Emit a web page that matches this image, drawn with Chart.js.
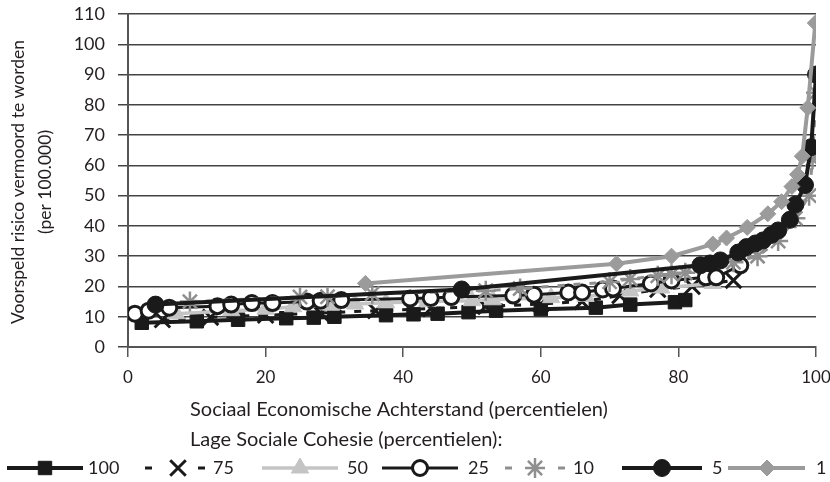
<!DOCTYPE html>
<html>
<head>
<meta charset="utf-8">
<script src="https://cdn.jsdelivr.net/npm/chart.js@4/dist/chart.umd.min.js"></script>
<style>
  body { margin: 0; background: #fff; }
  canvas { display: block; }
</style>
</head>
<body>
<canvas id="chart" width="830" height="482"></canvas>
<script>
// data (x = percentile sociaal economische achterstand, y = risico per 100.000)
const s100X = [2, 10, 16, 23, 27, 30, 37.5, 41.5, 45, 49.5, 53.5, 60, 68, 73, 79.5, 81];
const s100Y = [8, 8.5, 9, 9.5, 9.7, 10, 10.5, 10.8, 11, 11.5, 12, 12.5, 13, 14, 14.8, 15.5];

const s75X = [5, 12, 20, 28, 36, 44, 52, 60, 66, 71.5, 77, 82, 88];
const s75Y = [9, 9.8, 10.5, 11.2, 12, 12.7, 13.4, 14.2, 15, 17, 19, 20, 22];

const s50X = [7, 15, 20, 24, 29.5, 33, 37.5, 43.5, 50, 53, 61.5, 66.5, 73, 77.5, 85];
const s50Y = [11, 12, 12.5, 13.3, 13.8, 14.2, 14.6, 15, 15.3, 15.6, 16.3, 16.7, 18.5, 19.5, 21];

const s25X = [1, 3, 6, 13, 15, 18, 21, 26, 28, 31, 41, 44, 47, 56, 59, 64, 66, 69, 70.5, 76, 79, 84, 85.5, 89];
const s25Y = [11, 12, 13, 13.5, 14, 14.5, 14.5, 15, 15.3, 15.5, 16, 16.2, 16.5, 17, 17.3, 18, 18, 19, 19.3, 21, 22, 23, 23, 27];

const s10X = [9, 25, 29, 35.5, 52, 57, 70, 73, 77, 79, 81, 88, 91.5, 94.5, 97, 99, 99.5, 100];
const s10Y = [15, 16.5, 16.6, 17.6, 18.6, 19.3, 21.5, 22.5, 23.5, 24, 24.5, 28, 30, 35, 42.5, 50, 62, 84];

const s5X = [4, 48.5, 83.2, 84.6, 86.1, 88.7, 89.9, 91.2, 92.3, 93.5, 94.5, 96.2, 97, 98.4, 99.3, 100];
const s5Y = [14, 19, 27, 27.6, 28.6, 31.2, 33, 34.2, 35.2, 37, 38.5, 42, 47, 53.5, 66, 90];

const s1X = [34.5, 71, 79, 85, 87, 90, 93, 95, 96.5, 97.3, 98, 98.8, 99.9];
const s1Y = [21, 27.5, 30, 34, 36, 39.5, 44, 48, 53, 57, 63, 79, 107];

const xTicks = [0, 20, 40, 60, 80, 100];
const yTicks = [0, 10, 20, 30, 40, 50, 60, 70, 80, 90, 100, 110];

const xTitle = 'Sociaal Economische Achterstand (percentielen)';
const legendTitle = 'Lage Sociale Cohesie (percentielen):';
const yTitle = ['Voorspeld risico vermoord te worden', '(per 100.000)'];

const FONT = 'Lato, "Open Sans", sans-serif';
const TXT = '#231f20';

function pts(xs, ys) {
  return xs.map((x, i) => ({ x: x, y: ys[i] }));
}

// series styles (also used by the legend)
const series = [
  { label: '100', xs: s100X, ys: s100Y, line: '#1a1a1a', lw: 4, dash: [], style: 'rect', r: 9.5, fill: '#1a1a1a', stroke: '#1a1a1a', bw: 1 },
  { label: '75', xs: s75X, ys: s75Y, line: '#1a1a1a', lw: 3, dash: [7, 9], style: 'crossRot', r: 11, fill: '#1a1a1a', stroke: '#1a1a1a', bw: 3 },
  { label: '50', xs: s50X, ys: s50Y, line: '#c4c4c4', lw: 3.5, dash: [], style: 'triangle', r: 10, fill: '#c4c4c4', stroke: '#c4c4c4', bw: 1 },
  { label: '25', xs: s25X, ys: s25Y, line: '#1a1a1a', lw: 3, dash: [], style: 'circle', r: 7.5, fill: '#ffffff', stroke: '#1a1a1a', bw: 3 },
  { label: '10', xs: s10X, ys: s10Y, line: '#8f8f8f', lw: 3, dash: [7, 9], style: 'star', r: 10, fill: '#8f8f8f', stroke: '#8f8f8f', bw: 2.5 },
  { label: '5', xs: s5X, ys: s5Y, line: '#1a1a1a', lw: 4, dash: [], style: 'circle', r: 8.5, fill: '#1a1a1a', stroke: '#1a1a1a', bw: 1 },
  { label: '1', xs: s1X, ys: s1Y, line: '#9b9b9b', lw: 4, dash: [], style: 'rectRot', r: 8, fill: '#9b9b9b', stroke: '#9b9b9b', bw: 1 }
];

// chart.js draws dataset 0 on top, the last series should be on top
const datasets = series.slice().reverse().map(s => ({
  label: s.label,
  data: pts(s.xs, s.ys),
  showLine: true,
  borderColor: s.line,
  borderWidth: s.lw,
  borderDash: s.dash,
  tension: 0,
  pointStyle: s.style,
  pointRadius: s.r,
  pointBackgroundColor: s.fill,
  pointBorderColor: s.stroke,
  pointBorderWidth: s.bw
}));

// legend positions: [line start, marker, line end, text x]
const legendPos = {
  '100': [7, 45, 83, 88],
  '75': [145, 178, 205, 213],
  '50': [262, 300, 338, 347],
  '25': [382, 420, 458, 468],
  '10': [505, 535, 565, 573],
  '5': [622, 662, 702, 712],
  '1': [728, 767, 805, 816]
};

const textPlugin = {
  id: 'texts',
  afterDraw(chart) {
    const ctx = chart.ctx;
    ctx.save();
    ctx.fillStyle = TXT;
    ctx.textBaseline = 'middle';

    ctx.font = '20px ' + FONT;
    ctx.textAlign = 'left';
    ctx.fillText(xTitle, 190, 410);
    ctx.fillText(legendTitle, 190, 440);

    // y title, two rotated lines
    ctx.save();
    ctx.font = '17.5px ' + FONT;
    ctx.translate(18, 182);
    ctx.rotate(-Math.PI / 2);
    ctx.textAlign = 'center';
    ctx.fillText(yTitle[0], 0, 0);
    ctx.fillText(yTitle[1], 0, 27);
    ctx.restore();

    // legend
    const ly = 468;
    ctx.font = '18px ' + FONT;
    series.forEach(s => {
      const p = legendPos[s.label];
      ctx.strokeStyle = s.line;
      ctx.lineWidth = s.lw;
      ctx.setLineDash([]);
      ctx.beginPath();
      if (s.dash.length) {
        ctx.moveTo(p[0], ly); ctx.lineTo(p[0] + 7, ly);
        ctx.moveTo(p[2] - 7, ly); ctx.lineTo(p[2], ly);
      } else {
        ctx.moveTo(p[0], ly); ctx.lineTo(p[2], ly);
      }
      ctx.stroke();
      ctx.fillStyle = s.fill;
      ctx.strokeStyle = s.stroke;
      ctx.lineWidth = s.bw;
      Chart.helpers.drawPoint(ctx, { pointStyle: s.style, radius: s.r, rotation: 0, borderWidth: s.bw }, p[1], ly);
      ctx.fillStyle = TXT;
      ctx.textAlign = 'left';
      ctx.fillText(s.label, p[3], ly);
    });
    ctx.restore();
  }
};

new Chart(document.getElementById('chart'), {
  type: 'scatter',
  data: { datasets: datasets },
  options: {
    responsive: false,
    animation: false,
    layout: { padding: { top: 13.5, right: 14, left: 0, bottom: 0 } },
    plugins: { legend: { display: false }, tooltip: { enabled: false } },
    scales: {
      x: {
        type: 'linear',
        min: 0,
        max: 100,
        afterBuildTicks(scale) { scale.ticks = xTicks.map(v => ({ value: v })); },
        afterFit(scale) {
          scale.height = 135;
          scale.paddingLeft = 0;
          scale.paddingRight = 0;
        },
        ticks: { color: TXT, font: { family: FONT, size: 17 }, padding: 10, maxRotation: 0 },
        grid: { drawOnChartArea: false, drawTicks: true, tickLength: 10, color: '#555', lineWidth: 1.5 },
        border: { color: '#555', width: 2 }
      },
      y: {
        min: 0,
        max: 110,
        afterBuildTicks(scale) { scale.ticks = yTicks.map(v => ({ value: v })); },
        afterFit(scale) {
          scale.width = 128;
          scale.paddingTop = 0;
          scale.paddingBottom = 0;
        },
        ticks: { color: TXT, font: { family: FONT, size: 18 }, padding: 13 },
        grid: { color: '#444', lineWidth: 1.5, tickLength: 10 },
        border: { color: '#555', width: 2 }
      }
    }
  },
  plugins: [textPlugin]
});
</script>
</body>
</html>
